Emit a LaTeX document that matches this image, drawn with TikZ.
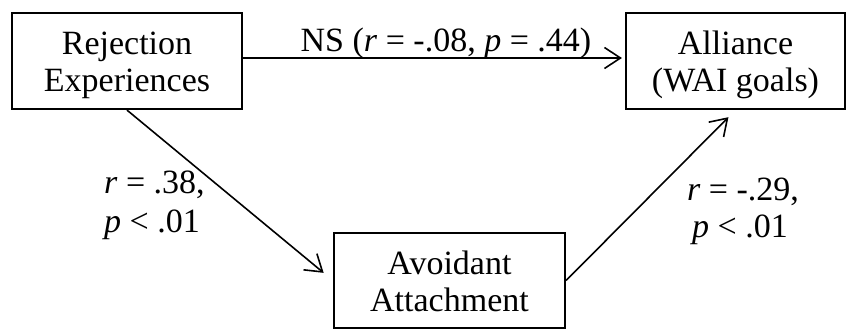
\documentclass[tikz,border=0pt]{standalone}
\usepackage{fontspec}
\setmainfont{Liberation Serif}
\usetikzlibrary{arrows.meta}
\newcommand{\topstr}{\rule{0pt}{35pt}}
\newcommand{\botstr}{\rule[-10pt]{0pt}{10pt}}
\tikzset{
  box/.style={draw=black, line width=2.2pt, align=center, inner sep=0pt,
    font=\fontsize{34}{37}\selectfont},
  lbl/.style={inner sep=0pt, font=\fontsize{34}{37}\selectfont},
  arr/.style={line width=1.6pt, -{Straight Barb[length=16pt,width=21pt,line width=1.6pt]}}
}
\begin{document}
\begin{tikzpicture}[x=1pt,y=-1pt]
\useasboundingbox (0,0) rectangle (846,329);
\node[box, minimum width=230pt, minimum height=96pt] (rej) at (127,61) {\topstr Rejection\\Experiences\botstr};
\node[box, minimum width=219pt, minimum height=96pt] (all) at (735.5,61) {\topstr Alliance\\(WAI goals)\botstr};
\node[box, minimum width=231pt, minimum height=95pt] (avo) at (449.5,280.5) {\topstr Avoidant\\Attachment\botstr};
\draw[arr, shorten >=3pt] ([yshift=3pt]rej.east) -- ([yshift=3pt]all.west);
\draw[arr, shorten >=12pt] (rej.south) -- (avo.west);
\draw[arr, shorten >=10pt] (avo.east) -- (all.south);
\node[lbl, anchor=base] (ns) at (446,52) {NS (\textit{r} = -.08, \textit{p} = .44)};
\node[lbl, anchor=base west] (r1) at (104,193) {\textit{r} = .38,};
\node[lbl, anchor=base west] (p1) at (104,232) {\textit{p} < .01};
\node[lbl, anchor=base] (r2) at (743,200) {\textit{r} = -.29,};
\node[lbl, anchor=base] (p2) at (740,237) {\textit{p} < .01};
\end{tikzpicture}
\end{document}
